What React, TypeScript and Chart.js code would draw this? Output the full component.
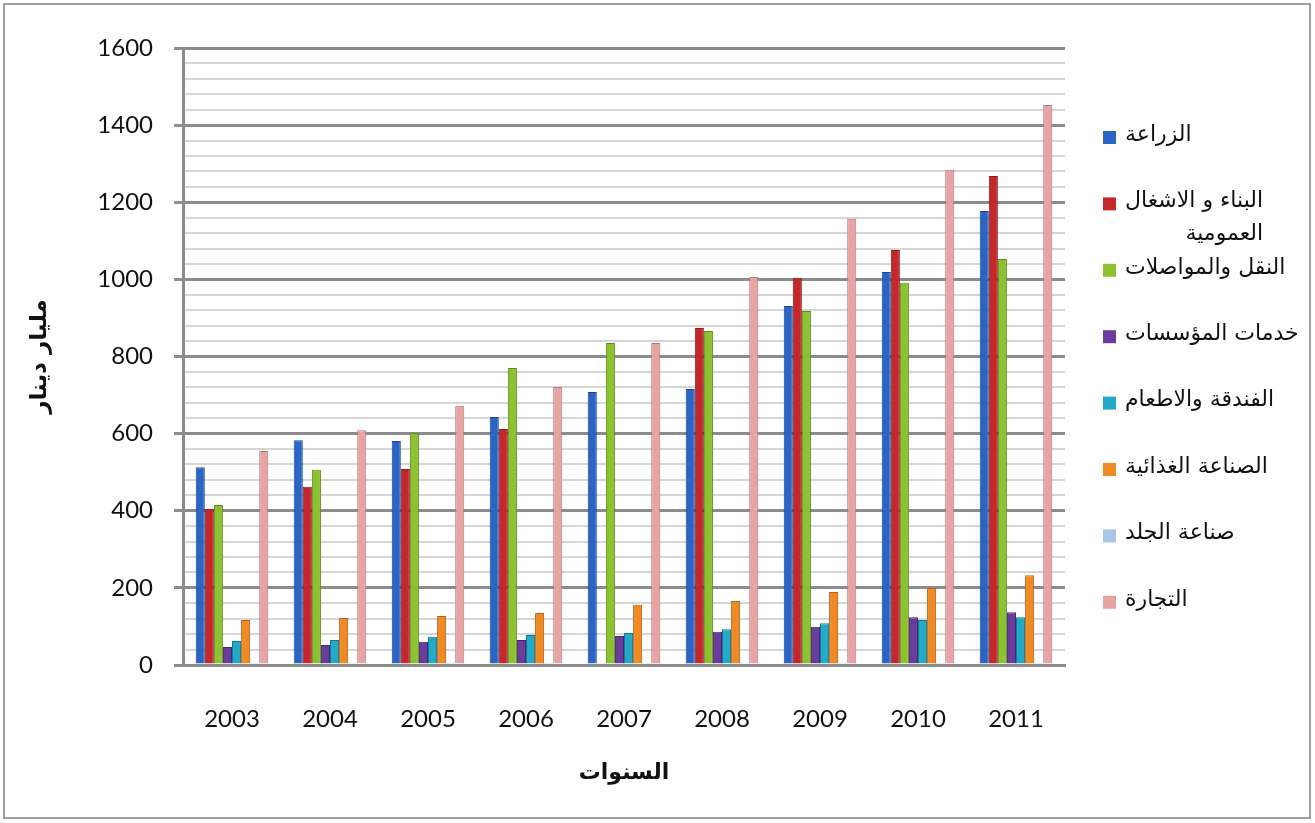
import React, { useEffect, useRef } from "react";
import { Chart, registerables } from "chart.js";

Chart.register(...registerables);

const years = ["2003", "2004", "2005", "2006", "2007", "2008", "2009", "2010", "2011"];

const seriesNames = [
  "الزراعة",
  ["البناء و الاشغال", "العمومية"],
  "النقل والمواصلات",
  "خدمات المؤسسات",
  "الفندقة والاطعام",
  "الصناعة الغذائية",
  "صناعة الجلد",
  "التجارة",
];

const agriculture = [513, 583, 581, 643, 708, 716, 931, 1019, 1177];
const construction = [405, 462, 508, 612, 3, 874, 1004, 1076, 1268];
const transport = [415, 506, 601, 770, 835, 866, 918, 991, 1053];
const businessServices = [47, 52, 60, 65, 75, 86, 99, 124, 137];
const hotels = [62, 65, 73, 78, 83, 93, 108, 117, 124];
const foodIndustry = [117, 122, 127, 135, 156, 166, 189, 200, 233];
const leather = [6, 6, 6, 6, 6, 6, 6, 6, 6];
const trade = [555, 609, 672, 721, 835, 1006, 1157, 1284, 1452];

const seriesValues = [agriculture, construction, transport, businessServices, hotels, foodIndustry, leather, trade];
const fillColors = ["#2a64c4", "#c4282a", "#8cc230", "#6a3c9e", "#22aac8", "#f28a24", "#a8c6e6", "#e8a4a4"];
const edgeColors = ["#1b4592", "#8e1a1c", "#5f8a1c", "#47276e", "#16798f", "#b5621a", "#7e9cc0", "#b87878"];

const yTicksMajor = [0, 200, 400, 600, 800, 1000, 1200, 1400, 1600];

const arabicFont = "'DejaVu Sans', 'Noto Sans', sans-serif";

export default function App() {
  const ref = useRef<HTMLCanvasElement | null>(null);

  useEffect(() => {
    if (!ref.current) return;

    const frame = {
      id: "frame",
      beforeDraw(chart: any) {
        const c = chart.ctx;
        c.save();
        c.fillStyle = "#ffffff";
        c.fillRect(0, 0, chart.width, chart.height);
        c.strokeStyle = "#a0a0a0";
        c.lineWidth = 2;
        c.strokeRect(4, 4, 1306, 814);
        c.restore();
      },
    };

    const legendPlugin = {
      id: "customLegend",
      afterDraw(chart: any) {
        const c = chart.ctx;
        const area = chart.chartArea;
        const boxX = area.right + 38;
        const textX = boxX + 22;
        const startY = 137;
        const step = 66.4;
        c.save();
        c.font = `22px ${arabicFont}`;
        c.textBaseline = "middle";
        seriesNames.forEach((name, i) => {
          const cy = startY + i * step;
          c.fillStyle = fillColors[i];
          c.fillRect(boxX, cy - 6, 13, 13);
          c.fillStyle = "#111111";
          if (Array.isArray(name)) {
            c.textAlign = "left";
            c.fillText(name[0], textX, cy - 2);
            const w = c.measureText(name[0]).width;
            c.textAlign = "right";
            c.fillText(name[1], textX + w, cy + 31);
          } else {
            c.textAlign = "left";
            c.fillText(name, textX, cy - 2);
          }
        });
        c.restore();
      },
    };

    const chart = new Chart(ref.current, {
      type: "bar",
      data: {
        labels: years,
        datasets: seriesValues.map((vals, i) => ({
          label: Array.isArray(seriesNames[i]) ? (seriesNames[i] as string[]).join(" ") : (seriesNames[i] as string),
          data: vals,
          backgroundColor: fillColors[i],
          borderColor: edgeColors[i],
          borderWidth: 1,
          barPercentage: 1,
          categoryPercentage: 0.74,
        })),
      },
      options: {
        responsive: false,
        animation: false,
        layout: { padding: { left: 0, right: 250, top: 48, bottom: 0 } },
        plugins: {
          legend: { display: false },
          tooltip: { enabled: false },
        },
        scales: {
          x: {
            grid: { display: false, drawTicks: false },
            border: { display: true, color: "#8c8c8c", width: 3 },
            ticks: {
              padding: 40,
              color: "#111111",
              font: { family: "Lato, 'Liberation Sans', sans-serif", size: 24 },
            },
            title: {
              display: true,
              text: "السنوات",
              color: "#111111",
              font: { family: arabicFont, size: 22, weight: "bold" },
              padding: { top: 0, bottom: 37 },
            },
            afterFit(scale: any) {
              scale.height = 823 - 665;
            },
          },
          y: {
            min: 0,
            max: 1600,
            ticks: {
              stepSize: 40,
              autoSkip: false,
              padding: 21,
              color: "#111111",
              font: { family: "Lato, 'Liberation Sans', sans-serif", size: 24 },
              callback: (v: any) => (yTicksMajor.includes(Number(v)) ? String(v) : ""),
            },
            grid: {
              color: (ctx: any) => (ctx.tick && ctx.tick.value % 200 === 0 ? "#8c8c8c" : "#d6d6d6"),
              lineWidth: (ctx: any) => (ctx.tick && ctx.tick.value % 200 === 0 ? 3 : 2),
              tickColor: (ctx: any) => (ctx.tick && ctx.tick.value % 200 === 0 ? "#8c8c8c" : "rgba(0,0,0,0)"),
              tickLength: 9,
            },
            border: { display: true, color: "#8c8c8c", width: 3 },
            title: {
              display: true,
              text: "مليار دينار",
              color: "#111111",
              font: { family: arabicFont, size: 23, weight: "bold" },
              padding: { top: 26, bottom: 0 },
            },
            afterFit(scale: any) {
              scale.width = 183;
            },
          },
        },
      },
      plugins: [frame, legendPlugin],
    } as any);

    return () => chart.destroy();
  }, []);

  return (
    <div style={{ position: "fixed", left: 0, top: 0, width: 1315, height: 823 }}>
      <canvas ref={ref} width={1315} height={823} style={{ display: "block" }} />
    </div>
  );
}
